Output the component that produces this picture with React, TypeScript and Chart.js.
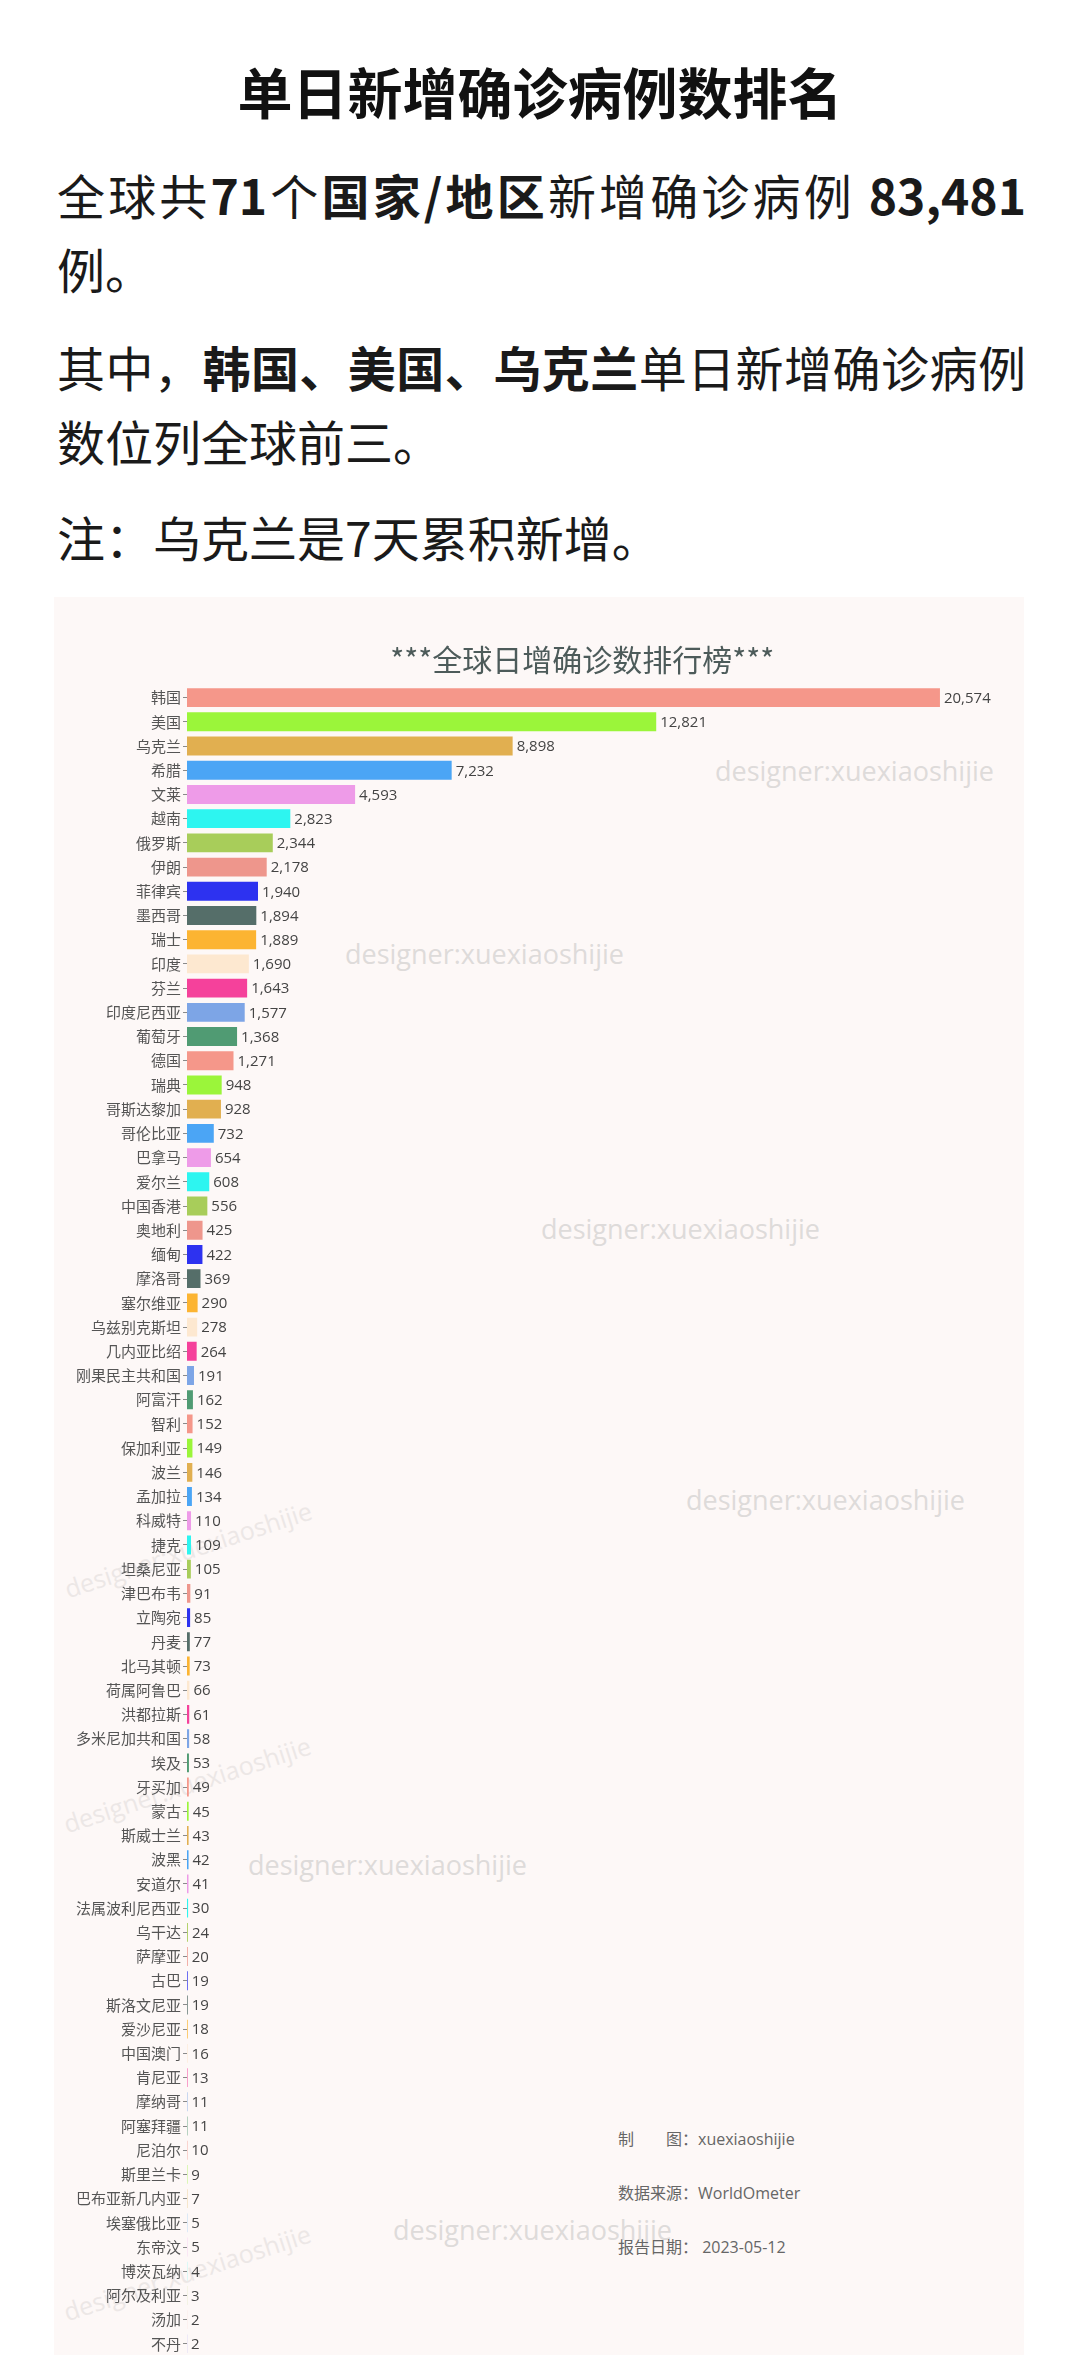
import React, { useEffect, useRef } from "react";
import { Chart, registerables } from "chart.js";

Chart.register(...registerables);

// ---- data ----
const countries = [
  "韩国", "美国", "乌克兰", "希腊", "文莱", "越南", "俄罗斯", "伊朗", "菲律宾", "墨西哥",
  "瑞士", "印度", "芬兰", "印度尼西亚", "葡萄牙", "德国", "瑞典", "哥斯达黎加", "哥伦比亚", "巴拿马",
  "爱尔兰", "中国香港", "奥地利", "缅甸", "摩洛哥", "塞尔维亚", "乌兹别克斯坦", "几内亚比绍", "刚果民主共和国", "阿富汗",
  "智利", "保加利亚", "波兰", "孟加拉", "科威特", "捷克", "坦桑尼亚", "津巴布韦", "立陶宛", "丹麦",
  "北马其顿", "荷属阿鲁巴", "洪都拉斯", "多米尼加共和国", "埃及", "牙买加", "蒙古", "斯威士兰", "波黑", "安道尔",
  "法属波利尼西亚", "乌干达", "萨摩亚", "古巴", "斯洛文尼亚", "爱沙尼亚", "中国澳门", "肯尼亚", "摩纳哥", "阿塞拜疆",
  "尼泊尔", "斯里兰卡", "巴布亚新几内亚", "埃塞俄比亚", "东帝汶", "博茨瓦纳", "阿尔及利亚", "汤加", "不丹",
];

const newCases = [
  20574, 12821, 8898, 7232, 4593, 2823, 2344, 2178, 1940, 1894,
  1889, 1690, 1643, 1577, 1368, 1271, 948, 928, 732, 654,
  608, 556, 425, 422, 369, 290, 278, 264, 191, 162,
  152, 149, 146, 134, 110, 109, 105, 91, 85, 77,
  73, 66, 61, 58, 53, 49, 45, 43, 42, 41,
  30, 24, 20, 19, 19, 18, 16, 13, 11, 11,
  10, 9, 7, 5, 5, 4, 3, 2, 2,
];

const barPalette = [
  "#f5978a", "#9bf53a", "#e1af50", "#4ba5f5", "#ee9be8",
  "#2df5f0", "#a8cd5a", "#ee968c", "#2d32f0", "#556e69",
  "#fcb432", "#fde8d0", "#f5419b", "#7da5e6", "#509b73",
];

const chartTitle = "***全球日增确诊数排行榜***";
const axisMax = 21600;

const footerLines = ["制\u3000\u3000图：xuexiaoshijie", "数据来源：WorldOmeter", "报告日期： 2023-05-12"];
const watermarkText = "designer:xuexiaoshijie";

const CJK = '"Noto Sans CJK SC", "Noto Sans", sans-serif';
const LATIN = '"Open Sans", "Noto Sans CJK SC", sans-serif';

const valueLabelPlugin = {
  id: "valueLabels",
  afterDatasetsDraw(chart: any) {
    const { ctx } = chart;
    const meta = chart.getDatasetMeta(0);
    const data = chart.data.datasets[0].data as number[];
    ctx.save();
    ctx.font = '15px "Open Sans", "Noto Sans", sans-serif';
    ctx.fillStyle = "#444";
    ctx.textBaseline = "middle";
    ctx.textAlign = "left";
    meta.data.forEach((bar: any, i: number) => {
      ctx.fillText(Number(data[i]).toLocaleString("en-US"), bar.x + 4, bar.y + 1);
    });
    ctx.restore();
  },
};

function RankingChart() {
  const ref = useRef<HTMLCanvasElement | null>(null);
  useEffect(() => {
    if (!ref.current) return;
    const chart = new Chart(ref.current, {
      type: "bar",
      data: {
        labels: countries,
        datasets: [
          {
            data: newCases,
            backgroundColor: countries.map((_, i) => barPalette[i % barPalette.length]),
            borderWidth: 0,
            barPercentage: 0.78,
            categoryPercentage: 1,
          },
        ],
      },
      options: {
        indexAxis: "y",
        responsive: false,
        animation: false,
        events: [],
        layout: { padding: { left: 0, right: 46.5, top: 0, bottom: 0 } },
        plugins: {
          legend: { display: false },
          tooltip: { enabled: false },
          title: {
            display: true,
            text: chartTitle,
            fullSize: false,
            color: "#4d5b5a",
            font: { size: 30, family: CJK, weight: "normal" },
            padding: { top: 45, bottom: 7.5 },
          },
        },
        scales: {
          x: { display: false, min: 0, max: axisMax },
          y: {
            afterFit: (s: any) => {
              s.width = 133;
            },
            border: { display: false },
            grid: {
              display: true,
              offset: false,
              drawOnChartArea: false,
              drawTicks: true,
              tickLength: 4,
              color: "#8a8a8a",
              tickColor: "#8a8a8a",
            },
            ticks: {
              autoSkip: false,
              color: "#555",
              padding: 2,
              font: { size: 15, family: CJK },
            },
          },
        },
      } as any,
      plugins: [valueLabelPlugin],
    });
    return () => chart.destroy();
  }, []);
  return <canvas ref={ref} width={970} height={1770} style={{ width: 970, height: 1770, display: "block" }} />;
}

const wmFlat = [
  { x: 715, y: 771 },
  { x: 345, y: 954 },
  { x: 541, y: 1229 },
  { x: 686, y: 1500 },
  { x: 248, y: 1865 },
  { x: 393, y: 2230 },
];
const wmTilted = [
  { x: 188, y: 1549 },
  { x: 187, y: 1784 },
  { x: 187, y: 2272 },
];

export default function App() {
  const para: React.CSSProperties = {
    position: "absolute",
    left: 57,
    width: 969,
    margin: 0,
    fontFamily: CJK,
    fontSize: 48,
    lineHeight: "74px",
    color: "#1a1a1a",
    textAlign: "justify",
  };
  return (
    <div
      style={{
        position: "absolute",
        left: 0,
        top: 0,
        width: 1080,
        height: 2355,
        overflow: "hidden",
        background: "#ffffff",
      }}
    >
      <div
        style={{
          position: "absolute",
          left: 0,
          top: 57,
          width: 1080,
          textAlign: "center",
          fontFamily: CJK,
          fontWeight: 700,
          fontSize: 55,
          lineHeight: "66px",
          color: "#111",
        }}
      >
        单日新增确诊病例数排名
      </div>
      <p style={{ ...para, top: 157 }}>
        全球共<b>71</b>个<b>国家/地区</b>新增确诊病例 <b>83,481</b>例。
      </p>
      <p style={{ ...para, top: 329 }}>
        其中，<b>韩国、美国、乌克兰</b>单日新增确诊病例数位列全球前三。
      </p>
      <p style={{ ...para, top: 499 }}>注：乌克兰是7天累积新增。</p>

      <div
        style={{
          position: "absolute",
          left: 54,
          top: 597,
          width: 970,
          height: 1800,
          background: "#fdf8f7",
          overflow: "hidden",
        }}
      >
        {wmFlat.map((w, i) => (
          <div
            key={"f" + i}
            style={{
              position: "absolute",
              left: w.x - 54,
              top: w.y - 597 - 18,
              lineHeight: "36px",
              fontFamily: LATIN,
              fontSize: 27,
              color: "#dedbda",
              whiteSpace: "nowrap",
            }}
          >
            {watermarkText}
          </div>
        ))}
        {wmTilted.map((w, i) => (
          <div
            key={"t" + i}
            style={{
              position: "absolute",
              left: w.x - 54 - 140,
              top: w.y - 597 - 18,
              width: 280,
              textAlign: "center",
              lineHeight: "36px",
              fontFamily: LATIN,
              fontSize: 25,
              color: "#ece7e6",
              whiteSpace: "nowrap",
              transform: "rotate(-18deg)",
            }}
          >
            {watermarkText}
          </div>
        ))}
        {footerLines.map((t, i) => (
          <div
            key={"l" + i}
            style={{
              position: "absolute",
              left: 618 - 54,
              top: 2139 + i * 54 - 597 - 12,
              lineHeight: "24px",
              fontFamily: LATIN,
              fontSize: 16,
              color: "#666",
              whiteSpace: "pre",
            }}
          >
            {t}
          </div>
        ))}
        <div style={{ position: "absolute", left: 0, top: 0 }}>
          <RankingChart />
        </div>
      </div>
    </div>
  );
}
